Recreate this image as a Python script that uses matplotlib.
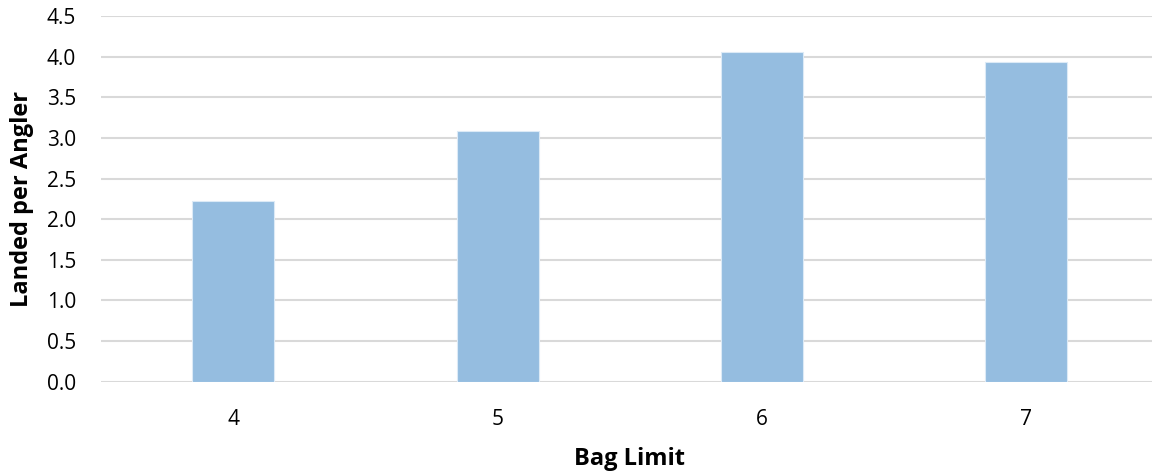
import matplotlib
matplotlib.use("Agg")
import matplotlib.pyplot as plt

# data
bag_limits = ["4", "5", "6", "7"]
landed_per_angler = [2.22, 3.08, 4.06, 3.94]
y_ticks = [0.0, 0.5, 1.0, 1.5, 2.0, 2.5, 3.0, 3.5, 4.0, 4.5]

plt.rcParams['font.family'] = ['Open Sans', 'DejaVu Sans']

fig = plt.figure(figsize=(11.52, 4.74), dpi=100)
ax = fig.add_axes([0.0877, 0.1947, 0.918, 0.7715])

x = range(len(bag_limits))
ax.bar(x, landed_per_angler, width=0.31, color='#95BDE0', edgecolor='#DCEAF6',
       linewidth=0.8, zorder=3)

ax.set_xlim(-0.5, len(bag_limits) - 0.5)
ax.set_ylim(0, 4.5)
ax.set_yticks(y_ticks)
ax.set_yticklabels(["%.1f" % v for v in y_ticks], fontsize=15)
ax.set_xticks(list(x))
ax.set_xticklabels(bag_limits, fontsize=15)

ax.grid(axis='y', color='#D9D9D9', linewidth=1.5, zorder=0)
for s in ['top', 'right', 'left', 'bottom']:
    ax.spines[s].set_visible(False)
ax.tick_params(axis='both', length=0, colors='#000000')
ax.tick_params(axis='y', pad=18)
ax.tick_params(axis='x', pad=20)

ax.set_xlabel("Bag Limit", fontsize=17, fontweight='bold', labelpad=12)
ax.set_ylabel("Landed per Angler", fontsize=17, fontweight='bold', labelpad=9)

fig.savefig("out.png", dpi=100)
